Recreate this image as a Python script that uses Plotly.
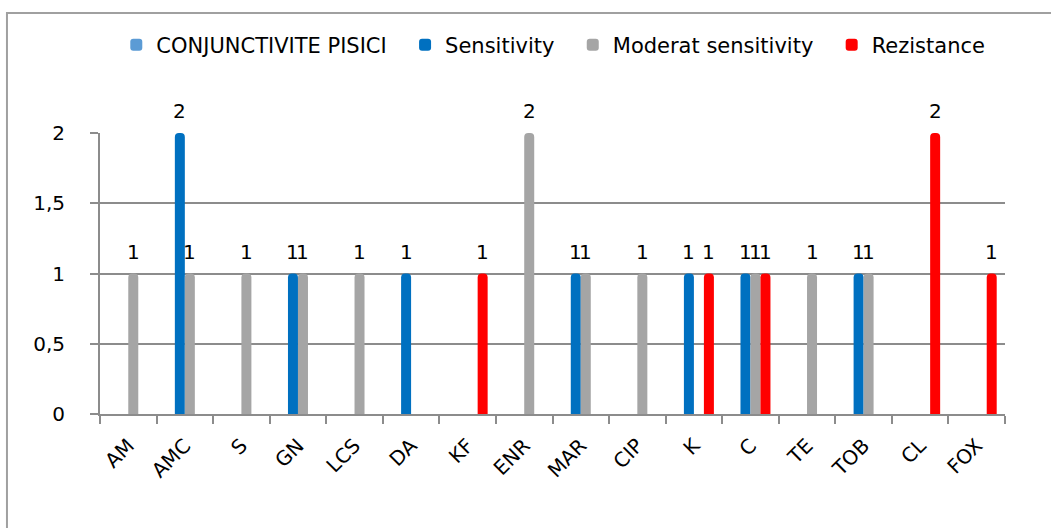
import plotly.graph_objects as go

# Antibiotics tested
categories = ["AM", "AMC", "S", "GN", "LCS", "DA", "KF", "ENR",
              "MAR", "CIP", "K", "C", "TE", "TOB", "CL", "FOX"]

# Counts per antibiotic for each result class (None = no isolate)
conjunctivite_pisici = [None] * 16
sensitivity = [None, 2, None, 1, None, 1, None, None,
               1, None, 1, 1, None, 1, None, None]
moderat_sensitivity = [1, 1, 1, 1, 1, None, None, 2,
                       1, 1, None, 1, 1, 1, None, None]
rezistance = [None, None, None, None, None, None, 1, None,
              None, None, 1, 1, None, None, 2, 1]

y_ticks = [0, 0.5, 1, 1.5, 2]

series = [
    ("CONJUNCTIVITE PISICI", conjunctivite_pisici, "#5B9BD5"),
    ("Sensitivity", sensitivity, "#0070C0"),
    ("Moderat sensitivity", moderat_sensitivity, "#A5A5A5"),
    ("Rezistance", rezistance, "#FF0000"),
]

FONT = "DejaVu Sans"
FS = 20
GRID = "#8C8C8C"
BARGAP = 0.293
NBSP = "\u00a0\u00a0"  # extra room between legend entries

fig = go.Figure()
for name, vals, color in series:
    fig.add_trace(go.Bar(
        name=name + NBSP,
        x=categories,
        y=vals,
        marker=dict(color=color, cornerradius=4, line=dict(width=0)),
        hovertemplate="%{x}: %{y}<extra>" + name + "</extra>",
    ))

# value labels centred over each bar of the group
bar_w = (1 - BARGAP) / len(series)
annotations = []
for si, (name, vals, color) in enumerate(series):
    offset = (si - (len(series) - 1) / 2) * bar_w
    for ci, v in enumerate(vals):
        if v is None:
            continue
        annotations.append(dict(
            x=ci + offset, y=v, xref="x", yref="y",
            text=str(v), showarrow=False,
            yanchor="middle", yshift=22,
            font=dict(family=FONT, size=FS, color="#000000"),
        ))

fig.update_layout(
    width=1051,
    height=528,
    barmode="group",
    bargap=BARGAP,
    bargroupgap=0,
    separators=", ",
    paper_bgcolor="white",
    plot_bgcolor="white",
    margin=dict(l=100, r=46, t=133, b=114),
    font=dict(family=FONT, size=FS, color="#000000"),
    annotations=annotations,
    legend=dict(
        orientation="h",
        x=0.018,
        xanchor="left",
        y=1.313,
        yanchor="middle",
        font=dict(family=FONT, size=21, color="#000000"),
        traceorder="normal",
        itemwidth=30,
        bgcolor="rgba(0,0,0,0)",
    ),
    xaxis=dict(
        type="category",
        range=[-0.5, 15.5],
        tickson="boundaries",
        ticks="outside",
        ticklen=8,
        tickcolor=GRID,
        tickwidth=2,
        tickangle=-45,
        ticklabelstandoff=10,
        tickfont=dict(family=FONT, size=FS, color="#000000"),
        showline=True,
        linecolor=GRID,
        linewidth=2,
        showgrid=False,
        zeroline=False,
    ),
    yaxis=dict(
        range=[0, 2],
        tickvals=y_ticks,
        ticks="outside",
        ticklen=8,
        tickcolor=GRID,
        tickwidth=2,
        ticklabelstandoff=21,
        tickfont=dict(family=FONT, size=FS, color="#000000"),
        showline=True,
        linecolor=GRID,
        linewidth=2,
        showgrid=True,
        gridcolor=GRID,
        gridwidth=2,
        zeroline=False,
    ),
    shapes=[
        # chart-area frame
        dict(type="rect", xref="paper", yref="paper",
             x0=-0.1028, x1=1.07, y0=-0.45, y1=1.427,
             line=dict(color="#A0A0A0", width=2), fillcolor="rgba(0,0,0,0)",
             layer="below"),
    ],
)

fig.write_html("out.html")
